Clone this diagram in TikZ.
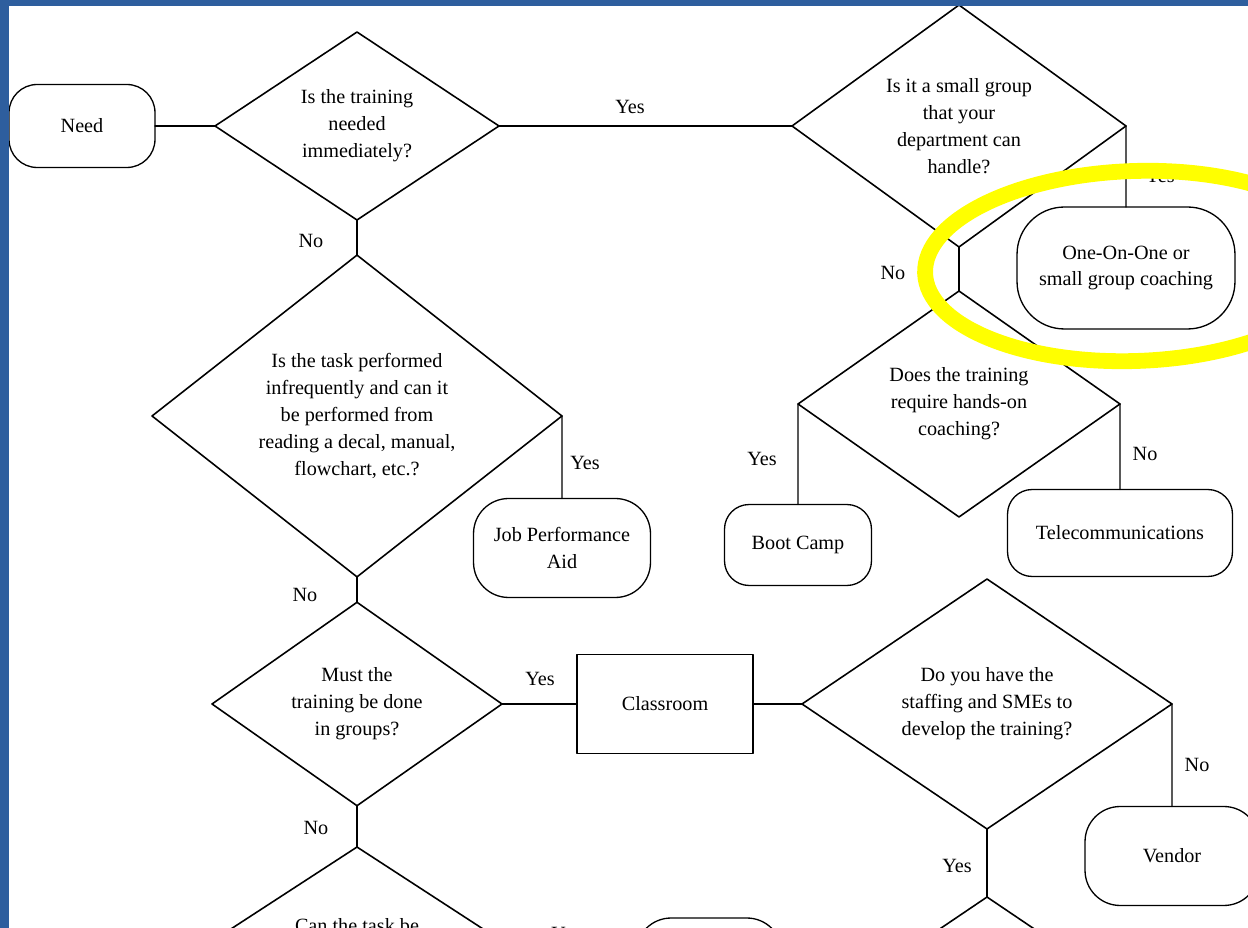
\documentclass[tikz,border=0pt]{standalone}
\usepackage{fontspec}
\setmainfont{Liberation Serif}
\usetikzlibrary{shapes.geometric}
\definecolor{frameblue}{RGB}{46,94,158}
\definecolor{marker}{RGB}{255,255,0}
\begin{document}
\begin{tikzpicture}[x=0.02cm,y=-0.02cm,line join=round,line cap=round,
		font=\fontsize{11.5}{15.3}\selectfont]
		\useasboundingbox (0,0) rectangle (1248,928);
		\clip (0,0) rectangle (1248,928);
		\tikzset{
			question/.style={draw,diamond,inner sep=0pt,outer sep=0pt,align=center,line width=0.9pt},
			term/.style={draw,rectangle,rounded corners=#1,inner sep=0pt,outer sep=0pt,align=center,line width=0.75pt},
			term/.default=15pt,
			answer/.style={inner sep=0pt},
			flow/.style={line width=0.75pt}
		}
		\node[term=16pt,minimum width=2.92cm,minimum height=1.66cm] (need) at (82,126) {Need};
		\node[question,minimum width=5.68cm,minimum height=3.76cm] (qnow) at (357,126) {Is the training\\needed\\immediately?};
		\node[question,minimum width=6.68cm,minimum height=4.84cm] (qsmall) at (959,126) {Is it a small group\\that your\\department can\\handle?};
		\node[term=27pt,minimum width=4.36cm,minimum height=2.44cm] (coach) at (1126,268) {One-On-One or\\small group coaching};
		\node[question,minimum width=6.44cm,minimum height=4.52cm] (qhands) at (959,404) {Does the training\\require hands-on\\coaching?};
		\node[term=14pt,minimum width=2.94cm,minimum height=1.62cm] (boot) at (798,545) {Boot Camp};
		\node[term=14pt,minimum width=4.5cm,minimum height=1.74cm] (telecom) at (1120,533) {Telecommunications};
		\node[question,minimum width=8.2cm,minimum height=6.36cm] (qtask) at (357,416) {Is the task performed\\infrequently and can it\\be performed from\\reading a decal, manual,\\flowchart, etc.?};
		\node[term=20pt,minimum width=3.54cm,minimum height=1.98cm] (jpa) at (562,548) {Job Performance\\Aid};
		\node[question,minimum width=5.8cm,minimum height=3.84cm] (qgroups) at (357,704) {Must the\\training be done\\in groups?};
		\node[draw,rectangle,outer sep=0pt,line width=0.75pt,minimum width=3.52cm,minimum height=1.98cm] (classroom) at (665,704) {Classroom};
		\node[question,minimum width=7.4cm,minimum height=5cm] (qstaff) at (987,704) {Do you have the\\staffing and SMEs to\\develop the training?};
		\node[term=20pt,minimum width=3.48cm,minimum height=1.98cm] (vendor) at (1172,856) {Vendor};
		\node[question,minimum width=8cm,minimum height=5.2cm] (qcan) at (357,977) {};
		\node[anchor=base] (qcantext) at (357,932) {Can the task be};
		\node[question,minimum width=7.4cm,minimum height=5cm] (qnext) at (987,1022) {};
		\node[term=20pt,minimum width=2.92cm,minimum height=1.6cm] (nextbox) at (709,958) {};

		\draw[flow] (need) -- (qnow);
		\draw[flow] (qnow.east) -- (qsmall.west);
		\draw[flow] (qsmall.east) -- (coach.north);
		\draw[flow] (qsmall.south) -- (qhands.north);
		\draw[flow] (qhands.west) -- (boot.north);
		\draw[flow] (qhands.east) -- (telecom.north);
		\draw[flow] (qnow.south) -- (qtask.north);
		\draw[flow] (qtask.east) -- (jpa.north);
		\draw[flow] (qtask.south) -- (qgroups.north);
		\draw[flow] (qgroups.east) -- (classroom.west);
		\draw[flow] (classroom.east) -- (qstaff.west);
		\draw[flow] (qstaff.east) -- (vendor.north);
		\draw[flow] (qstaff.south) -- (qnext.north);
		\draw[flow] (qgroups.south) -- (qcan.north);

		\node[answer] (yes1) at (630,107) {Yes};
		\node[answer] (no1) at (311,241) {No};
		\node[answer] (yes2) at (1160,176) {Yes};
		\node[answer] (no2) at (893,273) {No};
		\node[answer] (yes3) at (585,463) {Yes};
		\node[answer] (yes4) at (762,459) {Yes};
		\node[answer] (no3) at (1145,454) {No};
		\node[answer] (no4) at (305,595) {No};
		\node[answer] (yes5) at (540,679) {Yes};
		\node[answer] (no5) at (1197,765) {No};
		\node[answer] (yes6) at (957,866) {Yes};
		\node[answer] (no6) at (316,828) {No};
		\node[answer] (yes7) at (566,934) {Yes};

		\draw[marker,line width=9pt,rotate around={2:(1135,268)}] (1135,266) ellipse [x radius=4.2cm,y radius=1.9cm];

		\fill[frameblue] (0,0) rectangle (9,928);
		\fill[frameblue] (0,0) rectangle (1248,6);
\end{tikzpicture}
\end{document}
